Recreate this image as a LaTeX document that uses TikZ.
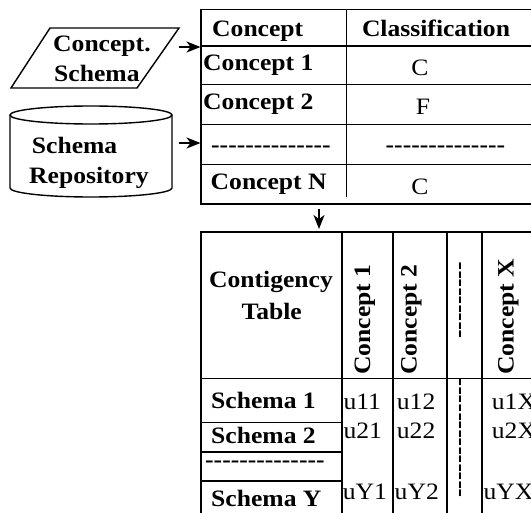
\documentclass[tikz,border=0pt]{standalone}
\usepackage{fontspec}
\setmainfont{Liberation Serif}[FakeStretch=1.09]
\usetikzlibrary{arrows.meta}
\newcommand\hh{-\kern0pt}
\newcommand\hrow[1]{\foreach \i in {1,...,#1}{\hh}}
\begin{document}
\begin{tikzpicture}[x=1pt,y=-1pt,
  bt/.style={font=\fontsize{23.5}{28}\selectfont\bfseries, inner sep=0pt},
  rt/.style={font=\fontsize{23.5}{28}\selectfont, inner sep=0pt},
  tl/.style={line width=1.8pt},
  sl/.style={line width=1.4pt},
  arr/.style={-{Stealth[length=14pt,width=11pt,inset=4pt]}, line width=1.5pt}]
\useasboundingbox (0,0) rectangle (531,513);
\clip (0,0) rectangle (531,513);

% ---- input shapes ----
\draw[sl] (11,88) -- (50,28) -- (179,28) -- (137,88) -- cycle;
\node[bt, anchor=base west] (cs1) at (53,51.7) {Concept.};
\node[bt, anchor=base west] (cs2) at (54,81.7) {Schema};

\draw[sl] (91,115) ellipse [x radius=81pt, y radius=9pt];
\draw[sl] (10,115) -- (10,188) arc[start angle=180, end angle=360, x radius=81pt, y radius=9pt] -- (172,115);
\node[bt, anchor=base west] (sr1) at (31.7,153.3) {Schema};
\node[bt, anchor=base west] (sr2) at (29,183.3) {Repository};

% ---- top table ----
\draw[tl] (201,9.5) rectangle (545,204);
\foreach \yy in {46,84.5,124.5,164.5} \draw[tl] (201,\yy) -- (545,\yy);
\draw[tl] (346.5,9.5) -- (346.5,197);

\node[bt, anchor=base west] (h1) at (212,36.5) {Concept};
\node[bt, anchor=base] (h2) at (436,36.5) {Classification};
\node[bt, anchor=base west] (c1) at (203,70.7) {Concept 1};
\node[rt, anchor=base] (k1) at (420,76) {C};
\node[bt, anchor=base west] (c2) at (203,110) {Concept 2};
\node[rt, anchor=base] (k2) at (423,115) {F};
\node[bt, anchor=mid west] (cd) at (211,150) {\hrow{14}};
\node[bt, anchor=mid west] (kd) at (385.5,150) {\hrow{14}};
\node[bt, anchor=base west] (cn) at (210.5,190) {Concept N};
\node[rt, anchor=base] (kn) at (420,195) {C};

% ---- arrows ----
\coordinate (a1s) at (179,47);
\coordinate (a1e) at (200.5,47);
\coordinate (a2s) at (179,143);
\coordinate (a2e) at (200.5,143);
\coordinate (a3s) at (319,209);
\coordinate (a3e) at (319,229);
\draw[arr] (a1s) -- (a1e);
\draw[arr] (a2s) -- (a2e);
\draw[arr] (a3s) -- (a3e);

% ---- contingency table ----
\draw[tl] (200.7,540) -- (200.7,231.7) -- (545,231.7);
\draw[tl] (200.7,378.5) -- (545,378.5);
\foreach \xx in {341.7,393.3,446.7,481.7} \draw[tl] (\xx,231.7) -- (\xx,540);
\foreach \yy in {422.5,451.7,481} \draw[tl] (200.7,\yy) -- (341.7,\yy);

\node[bt, anchor=base] (ct1) at (271,288) {Contigency};
\node[bt, anchor=base] (ct2) at (271.7,320) {Table};
\node[bt, rotate=90, anchor=base west] (v1) at (370,375) {Concept 1};
\node[bt, rotate=90, anchor=base west] (v2) at (416.7,375) {Concept 2};
\node[bt, rotate=90, anchor=mid west] (vd) at (463.3,339) {\hrow{9}};
\node[bt, rotate=90, anchor=base west] (vx) at (513.5,375) {Concept X};

\node[bt, anchor=base west] (s1) at (211,409) {Schema 1};
\node[bt, anchor=base west] (s2) at (211,443.3) {Schema 2};
\node[bt, anchor=mid west] (sd) at (205,465) {\hrow{14}};
\node[bt, anchor=base west] (sy) at (211,506.5) {Schema Y};

\node[rt, anchor=base west] (u11) at (343.3,410) {u11};
\node[rt, anchor=base west] (u12) at (396.7,410) {u12};
\node[rt, anchor=base west] (u1x) at (491.7,410) {u1X};
\node[rt, anchor=base west] (u21) at (343.3,438.3) {u21};
\node[rt, anchor=base west] (u22) at (396.7,438.3) {u22};
\node[rt, anchor=base west] (u2x) at (491.7,438.3) {u2X};
\node[rt, anchor=base west] (uy1) at (342.7,500) {uY1};
\node[rt, anchor=base west] (uy2) at (394.5,500) {uY2};
\node[rt, anchor=base west] (uyx) at (483.3,500) {uYX};
\node[bt, rotate=90, anchor=mid west] (ud) at (463.3,498) {\hrow{14}};
\end{tikzpicture}
\end{document}
